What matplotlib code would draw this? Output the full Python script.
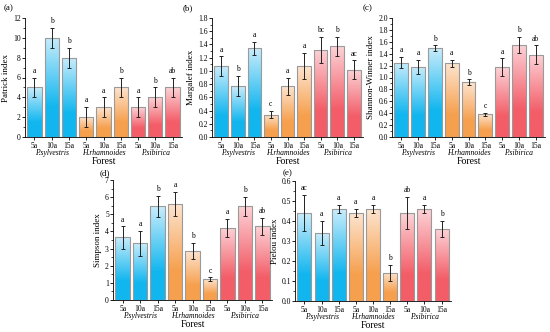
import matplotlib
matplotlib.use("Agg")
import matplotlib.pyplot as plt
import numpy as np
from matplotlib.colors import LinearSegmentedColormap

plt.rcParams['font.family'] = ['Liberation Serif', 'DejaVu Serif']

categories = ["5a", "10a", "15a", "5a", "10a", "15a", "5a", "10a", "15a"]
groups = ["P.sylvestris", "H.rhamnoides", "P.sibirica"]

patrick = [5, 10, 8, 2, 3, 5, 3, 4, 5]
patrick_err = [1, 1, 1, 1, 1, 1, 1, 1, 1]
patrick_let = ["a", "b", "b", "a", "a", "b", "a", "b", "ab"]

margalef = [1.07, 0.77, 1.34, 0.34, 0.77, 1.07, 1.32, 1.37, 1.02]
margalef_err = [0.15, 0.15, 0.10, 0.05, 0.13, 0.20, 0.20, 0.15, 0.14]
margalef_let = ["a", "b", "a", "c", "a", "a", "bc", "b", "ac"]

shannon = [1.25, 1.18, 1.49, 1.24, 0.92, 0.38, 1.17, 1.55, 1.38]
shannon_err = [0.09, 0.12, 0.05, 0.06, 0.05, 0.03, 0.15, 0.13, 0.16]
shannon_let = ["a", "a", "b", "a", "b", "c", "a", "b", "ab"]

simpson = [3.65, 3.30, 5.47, 5.62, 2.85, 1.20, 4.22, 5.47, 4.30]
simpson_err = [0.65, 0.72, 0.60, 0.70, 0.47, 0.12, 0.53, 0.55, 0.50]
simpson_let = ["a", "a", "b", "a", "b", "c", "a", "b", "ab"]

pielou = [0.44, 0.34, 0.46, 0.44, 0.46, 0.14, 0.44, 0.46, 0.36]
pielou_err = [0.09, 0.06, 0.02, 0.02, 0.02, 0.04, 0.08, 0.02, 0.04]
pielou_let = ["ac", "a", "a", "a", "a", "b", "ab", "a", "b"]

grad_colors = [("#12b6ef", "#c8ecfb"), ("#f6a04e", "#fde4cf"), ("#f35d68", "#fcd2d6")]

W, H = 550, 332
fig = plt.figure(figsize=(5.5, 3.32), dpi=100)

def add_ax(l, r, t, b):
    return fig.add_axes([l / W, 1 - b / H, (r - l) / W, (b - t) / H])

def panel(ax, vals, errs, lets, ymax, ystep, ylabel, tag, minor):
    x = np.arange(len(vals))
    w = 0.82
    for i, (v, e) in enumerate(zip(vals, errs)):
        c0, c1 = grad_colors[i // 3]
        cmap = LinearSegmentedColormap.from_list("g", [(0, c0), (0.3, c0), (1, c1)])
        grad = np.linspace(0, 1, 100).reshape(-1, 1)
        bars = ax.bar(x[i], v, width=w, color="none", edgecolor="#9a9a9a", linewidth=0.8, zorder=3)
        im = ax.imshow(grad, cmap=cmap, origin="lower", aspect="auto",
                       extent=[x[i] - w / 2, x[i] + w / 2, 0, v], zorder=2)
        im.set_clip_path(bars[0])
        ax.errorbar(x[i], v, yerr=e, fmt="none", ecolor="#222222", elinewidth=0.7,
                    capsize=1.5, capthick=0.7, zorder=4)
        ax.annotate(lets[i], (x[i], v + e), xytext=(0, 2), textcoords="offset points",
                    ha="center", va="bottom", fontsize=5.5)
    ax.set_xlim(-0.55, 8.55)
    ax.set_ylim(0, ymax)
    ax.set_yticks(np.arange(0, ymax + ystep / 2, ystep))
    ax.set_yticks(np.arange(0, ymax + 1e-9, minor), minor=True)
    ax.set_xticks(x)
    ax.set_xticklabels(categories, fontsize=5.5)
    ax.tick_params(axis="y", labelsize=5.5, length=2, width=0.6, pad=1)
    ax.tick_params(axis="y", which="minor", length=1.2, width=0.5)
    ax.tick_params(axis="x", length=2, width=0.6, pad=1.5)
    for s in ["top", "right"]:
        ax.spines[s].set_visible(False)
    for s in ["left", "bottom"]:
        ax.spines[s].set_linewidth(0.6)
    ax.set_ylabel(ylabel, fontsize=6.5, labelpad=2)
    for gi, g in enumerate(groups):
        ax.annotate(g, (gi * 3 + 1, 0), xycoords=("data", "axes fraction"),
                    xytext=(0, -8.3), textcoords="offset points", ha="center", va="top",
                    fontsize=5.5, style="italic")
    ax.annotate("Forest", (0.5, 0), xycoords="axes fraction", xytext=(0, -14.5),
                textcoords="offset points", ha="center", va="top", fontsize=7)
    fig.text(tag[1] / W, 1 - tag[2] / H, tag[0], fontsize=6.5, ha="left", va="center")

axa = add_ax(25, 182, 18, 137)
panel(axa, patrick, patrick_err, patrick_let, 12, 2, "Patrick index", ("(a)", 4, 8), 1)
axb = add_ax(212, 363, 18, 137)
panel(axb, margalef, margalef_err, margalef_let, 1.8, 0.2, "Margalef index", ("(b)", 183, 8), 0.1)
axc = add_ax(392, 545, 18, 137)
panel(axc, shannon, shannon_err, shannon_let, 2.0, 0.2, "Shannon-Winner index", ("(c)", 363, 8), 0.1)
axd = add_ax(113, 272, 180, 300)
panel(axd, simpson, simpson_err, simpson_let, 7, 1, "Simpson index", ("(d)", 100, 173), 0.5)
axe = add_ax(295, 451, 181, 301)
panel(axe, pielou, pielou_err, pielou_let, 0.6, 0.1, "Pielou index", ("(e)", 283, 173), 0.05)

fig.savefig("out.png", dpi=100)
